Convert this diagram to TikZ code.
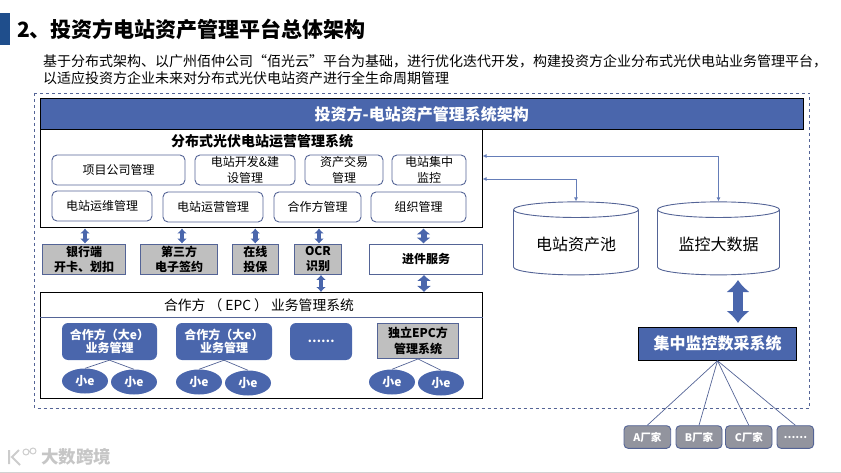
\documentclass[tikz,border=0pt]{standalone}
\usepackage{fontspec}
\setmainfont{Noto Sans CJK SC}
\usetikzlibrary{arrows.meta,shapes.geometric}
\definecolor{cHead}{RGB}{74,102,172}
\definecolor{cEdge}{RGB}{84,100,150}
\definecolor{cGrey}{RGB}{191,191,191}
\definecolor{cVend}{RGB}{146,148,158}
\definecolor{cBar}{RGB}{31,78,140}
\tikzset{
  headbox/.style={draw=black,fill=cHead,text=white,line width=1pt,inner sep=0pt,font=\bfseries\fontsize{16}{18}\selectfont},
  framebox/.style={draw=black,line width=1pt,inner sep=0pt},
  subbox/.style={draw=cEdge,rounded corners=5pt,line width=0.9pt,inner sep=0pt,align=center,font=\fontsize{12}{15.5}\selectfont},
  greybox/.style={draw=cEdge,fill=cGrey,line width=0.9pt,inner sep=0pt,align=center,font=\bfseries\fontsize{12}{15.5}\selectfont},
  bigebox/.style={fill=cHead,text=white,rounded corners=6pt,inner sep=0pt,align=center,font=\bfseries\fontsize{12}{13.5}\selectfont},
  smalle/.style={ellipse,fill=cHead,text=white,inner sep=0pt,minimum width=46,minimum height=25,font=\bfseries\fontsize{12}{14}\selectfont},
  poolbox/.style={cylinder,shape border rotate=90,draw=cEdge,line width=0.9pt,aspect=0.195,inner sep=0pt,text height=16.6pt,text depth=0pt,font=\fontsize{16}{18}\selectfont},
  vendbox/.style={draw=cEdge,fill=cVend,text=white,rounded corners=4pt,line width=0.9pt,inner sep=0pt,minimum height=22.6,font=\bfseries\fontsize{10.5}{12}\selectfont},
  blockarrow/.style={cHead,line width=4.5pt,{Latex[length=5pt,width=10pt]}-{Latex[length=5pt,width=10pt]}},
  bigarrow/.style={cHead,line width=6pt,{Latex[length=6pt,width=15pt]}-{Latex[length=6pt,width=15pt]}},
  hugearrow/.style={cHead,line width=10pt,{Latex[length=12pt,width=24pt]}-{Latex[length=12pt,width=24pt]}},
  thinarrow/.style={cHead!85,line width=0.9pt,{Latex[length=4pt,width=4pt]}-{Latex[length=4pt,width=4pt]}},
  thinline/.style={draw=cEdge,line width=0.7pt}
}
\begin{document}
\begin{tikzpicture}[x=1pt,y=-1pt]
\useasboundingbox (0,0) rectangle (841,473);
% page head
\fill[cBar] (0,13) rectangle (10,45);
\node[anchor=west,inner sep=0pt,font=\bfseries\fontsize{21}{24}\selectfont] (title) at (17,29) {2、投资方电站资产管理平台总体架构};
\node[anchor=west,inner sep=0pt,font=\fontsize{14}{17}\selectfont] (introA) at (43,61) {基于分布式架构、以广州佰仲公司“佰光云”平台为基础，进行优化迭代开发，构建投资方企业分布式光伏电站业务管理平台，};
\node[anchor=west,inner sep=0pt,font=\fontsize{14}{17}\selectfont] (introB) at (43,78) {以适应投资方企业未来对分布式光伏电站资产进行全生命周期管理};
\draw[cEdge,line width=0.8pt,dashed] (34.5,93) rectangle (809.5,408);
\node[headbox,minimum width=762.5,minimum height=31] (head) at (421.75,114) {投资方-电站资产管理系统架构};
% operation system
\node[framebox,minimum width=442,minimum height=98] (ops) at (261.5,179) {};
\node[inner sep=0pt,font=\bfseries\fontsize{14}{16}\selectfont] (opsT) at (262,141) {分布式光伏电站运营管理系统};
\node[subbox,minimum width=133,minimum height=30] (proj) at (118.5,170) {项目公司管理};
\node[subbox,minimum width=100,minimum height=30] (dev) at (245,170) {电站开发\&建\\设管理};
\node[subbox,minimum width=78,minimum height=30] (trade) at (344,170) {资产交易\\管理};
\node[subbox,minimum width=74,minimum height=30] (mon) at (429,170) {电站集中\\监控};
\node[subbox,minimum width=100,minimum height=30] (maint) at (102,206) {电站运维管理};
\node[subbox,minimum width=100,minimum height=30] (run) at (213,207) {电站运营管理};
\node[subbox,minimum width=87,minimum height=30] (partner) at (317.5,207) {合作方管理};
\node[subbox,minimum width=95,minimum height=30] (org) at (418.5,207) {组织管理};
% services
\node[greybox,minimum width=83,minimum height=30.5] (bank) at (84,259.25) {银行端\\开卡、划扣};
\node[greybox,minimum width=77,minimum height=30.5] (sign) at (179,259.25) {第三方\\电子签约};
\node[greybox,minimum width=45.5,minimum height=30.5] (insure) at (255.25,259.25) {在线\\投保};
\node[greybox,minimum width=47,minimum height=30.5] (ocr) at (318,259.25) {OCR\\识别};
\node[draw=cEdge,line width=0.9pt,inner sep=0pt,minimum width=113,minimum height=30.5,font=\bfseries\fontsize{12}{14}\selectfont] (entry) at (426,259.25) {进件服务};
\draw[blockarrow] ([xshift=1pt]bank.north) -- ([xshift=1pt]bank.north |- ops.south);
\draw[blockarrow] ([xshift=3pt]sign.north) -- ([xshift=3pt]sign.north |- ops.south);
\draw[blockarrow] (insure.north) -- (insure.north |- ops.south);
\draw[blockarrow] ([xshift=1pt]ocr.north) -- ([xshift=1pt]ocr.north |- ops.south);
\draw[bigarrow] ([xshift=-2.5pt]entry.north) -- ([xshift=-2.5pt]entry.north |- ops.south);
% EPC system
\node[framebox,minimum width=442,minimum height=105.5] (epc) at (261.5,345.25) {};
\node[inner sep=0pt,font=\fontsize{13.8}{15}\selectfont] (epcT) at (259,305) {合作方 （ EPC ） 业务管理系统};
\draw[cEdge,line width=0.8pt] (epc.west |- 0,317.5) -- (epc.east |- 0,317.5);
\draw[blockarrow] ([xshift=3pt]ocr.south) -- ([xshift=3pt]ocr.south |- epc.north);
\draw[bigarrow] ([xshift=-2pt]entry.south) -- ([xshift=-2pt]entry.south |- epc.north);
\node[bigebox,minimum width=95,minimum height=37] (bigA) at (109.5,341.5) {合作方（大e）\\业务管理};
\node[bigebox,minimum width=96,minimum height=37] (bigB) at (224,341.5) {合作方（大e）\\业务管理};
\node[bigebox,minimum width=62,minimum height=37] (bigC) at (321,341.5) {……};
\node[greybox,minimum width=81,minimum height=35] (indep) at (418,341) {独立EPC方\\管理系统};
\node[smalle] (eA) at (85,381) {小e};
\node[smalle] (eB) at (134,382) {小e};
\node[smalle] (eC) at (199,382) {小e};
\node[smalle] (eD) at (248,383) {小e};
\node[smalle] (eE) at (392,382) {小e};
\node[smalle] (eF) at (441,383) {小e};
\draw[thinline] (bigA.south) -- (eA.north);
\draw[thinline] (bigA.south) -- (eB.north);
\draw[thinline] (bigB.south) -- (eC.north);
\draw[thinline] (bigB.south) -- (eD.north);
\draw[thinline] (indep.south) -- (eE.north);
\draw[thinline] (indep.south) -- (eF.north);
% data pools
\node[poolbox,minimum width=125,minimum height=73] (pool) at (576,242.5) {电站资产池};
\node[poolbox,minimum width=122,minimum height=73] (bigdata) at (718.5,242.5) {监控大数据};
\coordinate (opsP) at (482.5,156);
\coordinate (opsQ) at (482.5,179);
\draw[thinarrow] (opsP) -| (bigdata.north);
\draw[thinarrow] (opsQ) -| (pool.north);
\node[headbox,minimum width=158,minimum height=33] (collect) at (717.5,343.75) {集中监控数采系统};
\coordinate (linkT) at (738,280);
\coordinate (linkB) at (738,323);
\draw[hugearrow] (linkT) -- (linkB);
% vendors
\node[vendbox,minimum width=46.7] (venA) at (647.35,437) {A厂家};
\node[vendbox,minimum width=46] (venB) at (699,437) {B厂家};
\node[vendbox,minimum width=46.5] (venC) at (748.75,437) {C厂家};
\node[vendbox,minimum width=36.6] (venD) at (795.3,437) {……};
\draw[thinline] (collect.south) -- (venA.north);
\draw[thinline] (collect.south) -- (venB.north);
\draw[thinline] (collect.south) -- (venC.north);
\draw[thinline] (collect.south) -- (venD.north);
% watermark
\draw[gray!40,line width=2pt] (9,450) -- (9,464) (19,450) -- (12,457) -- (20,465);
\draw[gray!40,line width=1pt] (26,452) circle (3) (33,451) circle (3);
\node[anchor=west,inner sep=0pt,text=gray!45,font=\bfseries\fontsize{17.5}{20}\selectfont] (mark) at (41,457) {大数跨境};
\draw[gray!35,line width=0.8pt] (0,472.3) -- (841,472.3);
\end{tikzpicture}
\end{document}
